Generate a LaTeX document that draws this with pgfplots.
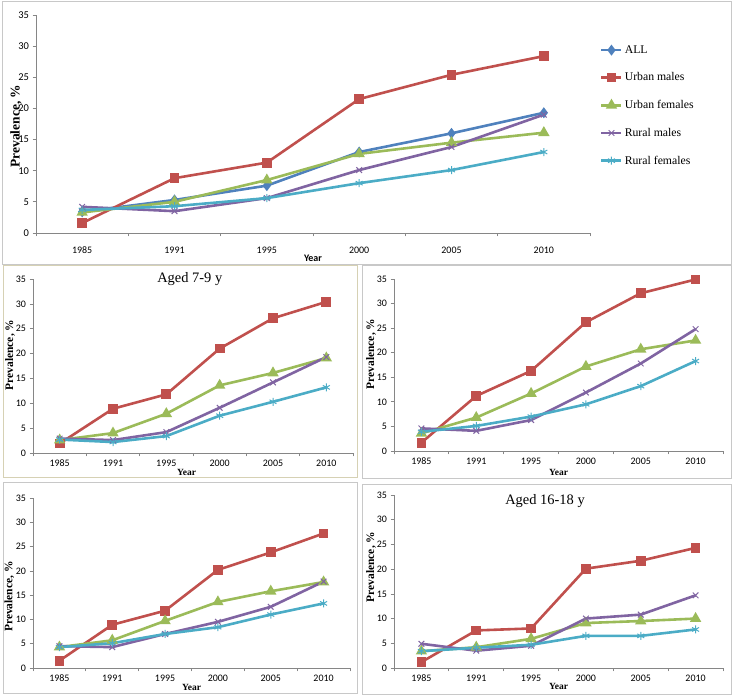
\documentclass[border=0pt]{standalone}
\usepackage{pgfplots}
\pgfplotsset{compat=1.18}
\usepackage{pgfplotstable}
\usepackage{fontspec}
\setmainfont{Liberation Serif}
\newfontfamily\calfont{Carlito}

\definecolor{xlblue}{HTML}{4F81BD}
\definecolor{xlred}{HTML}{C0504D}
\definecolor{xlgreen}{HTML}{9BBB59}
\definecolor{xlpurple}{HTML}{8064A2}
\definecolor{xlcyan}{HTML}{4BACC6}
\definecolor{axgray}{HTML}{868686}
\definecolor{framegray}{HTML}{C8C8C8}
\definecolor{framekhaki}{HTML}{D6D1B4}

% all ages
\pgfplotstableread{
i ALL um uf rm rf
0 3.4 1.6 3.3 4.2 3.7
1 5.3 8.8 5.0 3.5 4.3
2 7.6 11.3 8.5 5.6 5.6
3 13.0 21.5 12.7 10.1 8.0
4 16.0 25.4 14.5 13.8 10.1
5 19.3 28.4 16.1 19.0 13.0
}\tall
% aged 7-9
\pgfplotstableread{
i um uf rm rf
0 1.9 2.6 2.9 2.7
1 8.9 4.0 2.6 2.2
2 11.8 7.9 4.2 3.4
3 21.0 13.6 9.1 7.5
4 27.1 16.1 14.2 10.3
5 30.4 19.1 19.3 13.2
}\ta
% aged 10-12
\pgfplotstableread{
i um uf rm rf
0 1.7 3.6 4.6 3.9
1 11.2 6.8 4.1 5.1
2 16.3 11.7 6.3 7.0
3 26.2 17.2 11.9 9.5
4 32.1 20.7 17.8 13.2
5 34.9 22.5 24.8 18.3
}\tb
% aged 13-15
\pgfplotstableread{
i um uf rm rf
0 1.5 4.3 4.5 4.3
1 8.9 5.7 4.3 5.1
2 11.8 9.7 7.0 7.0
3 20.2 13.6 9.5 8.4
4 23.8 15.8 12.6 11.0
5 27.7 17.7 17.8 13.3
}\tc
% aged 16-18
\pgfplotstableread{
i um uf rm rf
0 1.2 3.4 4.9 3.4
1 7.6 4.2 3.5 4.1
2 8.0 5.9 4.5 4.7
3 20.1 9.1 10.0 6.5
4 21.7 9.5 10.8 6.5
5 24.3 10.0 14.7 7.8
}\td

\pgfplotsset{
  panel/.style={
    scale only axis, clip=false,
    xmin=-0.5, xmax=5.5, ymin=0, ymax=35,
    ytick={0,5,...,35},
    xtick={-0.5,0.5,...,5.5},
    x tick label as interval,
    xticklabels={1985,1991,1995,2000,2005,2010},
    axis x line=bottom, axis y line=left,
    axis line style={-, axgray, line width=0.7bp},
    tick style={axgray, line width=0.7bp},
    tick align=outside, major tick length=3.5bp,
    /pgf/number format/assume math mode=true,
    ylabel={Prevalence, \%},
    xlabel={Year},
  },
  sALL/.style={xlblue, line width=2.6bp, mark=diamond*, mark size=3.4bp, mark options={solid, fill=xlblue}},
  sum/.style={xlred, line width=2.6bp, mark=square*, mark size=3.6bp, mark options={solid, fill=xlred}},
  suf/.style={xlgreen, line width=2.6bp, mark=triangle*, mark size=4bp, mark options={solid, fill=xlgreen}},
  srm/.style={xlpurple, line width=2.6bp, mark=x, mark size=4bp, mark options={solid, line width=1bp}},
  srf/.style={xlcyan, line width=2.6bp, mark=asterisk, mark size=4bp, mark options={solid, line width=1bp}},
  small/.style={
    tick label style={font=\calfont\fontsize{10}{11}\selectfont},
    ylabel style={font=\fontsize{11.5}{12}\selectfont\bfseries, anchor=center},
    xlabel style={font=\fontsize{9.5}{10}\selectfont\bfseries, anchor=center},
    title style={font=\fontsize{14.5}{16}\selectfont, anchor=center},
  },
}

\begin{document}
\begin{tikzpicture}[x=1bp,y=1bp]
\path (0,0) rectangle (733,697);
% panel frames
\draw[framegray, line width=1bp] (2,432) rectangle (731,695);
\draw[framekhaki, line width=1bp] (3,219) rectangle (357,431);
\draw[framegray, line width=1bp] (362,218) rectangle (731,431);
\draw[framegray, line width=1bp] (3,3) rectangle (357,214);
\draw[framegray, line width=1bp] (362,2) rectangle (731,212);

% all ages
\begin{axis}[panel, at={(36bp,464bp)}, anchor=south west, width=554bp, height=218bp,
  yticklabel style={font=\calfont\fontsize{10.5}{11}\selectfont},
  xticklabel style={font=\calfont\fontsize{10}{11}\selectfont, yshift=-7bp},
  ylabel style={font=\fontsize{13.5}{14}\selectfont\bfseries, at={(axis description cs:-0.036,0.49)}, anchor=center},
  xlabel style={font=\calfont\fontsize{10}{11}\selectfont\bfseries, at={(axis description cs:0.5,-0.115)}, anchor=center},
  legend style={draw=none, fill=none, at={(axis description cs:1.018,0.87)}, anchor=north west,
    font=\fontsize{11.8}{13}\selectfont, row sep=14bp, inner sep=0pt},
  legend cell align=left,
  legend image code/.code={\draw[mark repeat=2, mark phase=2] plot coordinates {(0bp,0bp) (10bp,0bp) (20bp,0bp)};},
]
\addplot[sALL] table[x=i, y=ALL] {\tall};
\addlegendentry{ALL}
\addplot[sum] table[x=i, y=um] {\tall};
\addlegendentry{Urban males}
\addplot[suf] table[x=i, y=uf] {\tall};
\addlegendentry{Urban females}
\addplot[srm] table[x=i, y=rm] {\tall};
\addlegendentry{Rural males}
\addplot[srf] table[x=i, y=rf] {\tall};
\addlegendentry{Rural females}
\end{axis}

% aged 7-9
\begin{axis}[panel, small, at={(33bp,244bp)}, anchor=south west, width=320bp, height=174bp,
  title={Aged 7-9 y}, title style={at={(axis description cs:0.49,0.966)}},
  ylabel style={at={(axis description cs:-0.072,0.563)}},
  xlabel style={at={(axis description cs:0.48,-0.109)}},
]
\addplot[sum] table[x=i, y=um] {\ta};
\addplot[suf] table[x=i, y=uf] {\ta};
\addplot[srm] table[x=i, y=rm] {\ta};
\addplot[srf] table[x=i, y=rf] {\ta};
\end{axis}

% right upper panel
\begin{axis}[panel, small, at={(394bp,246bp)}, anchor=south west, width=329bp, height=172bp,
  ylabel style={at={(axis description cs:-0.07,0.564)}},
  xlabel style={at={(axis description cs:0.5,-0.122)}},
]
\addplot[sum] table[x=i, y=um] {\tb};
\addplot[suf] table[x=i, y=uf] {\tb};
\addplot[srm] table[x=i, y=rm] {\tb};
\addplot[srf] table[x=i, y=rf] {\tb};
\end{axis}

% left lower panel
\begin{axis}[panel, small, at={(33bp,29bp)}, anchor=south west, width=317bp, height=170bp,
  ylabel style={at={(axis description cs:-0.075,0.42)}},
  xlabel style={at={(axis description cs:0.5,-0.112)}},
]
\addplot[sum] table[x=i, y=um] {\tc};
\addplot[suf] table[x=i, y=uf] {\tc};
\addplot[srm] table[x=i, y=rm] {\tc};
\addplot[srf] table[x=i, y=rf] {\tc};
\end{axis}

% aged 16-18
\begin{axis}[panel, small, at={(394bp,29bp)}, anchor=south west, width=329bp, height=173bp,
  title={Aged 16-18 y}, title style={at={(axis description cs:0.459,0.93)}},
  ylabel style={at={(axis description cs:-0.07,0.584)}},
  xlabel style={at={(axis description cs:0.5,-0.104)}},
]
\addplot[sum] table[x=i, y=um] {\td};
\addplot[suf] table[x=i, y=uf] {\td};
\addplot[srm] table[x=i, y=rm] {\td};
\addplot[srf] table[x=i, y=rf] {\td};
\end{axis}
\end{tikzpicture}
\end{document}
